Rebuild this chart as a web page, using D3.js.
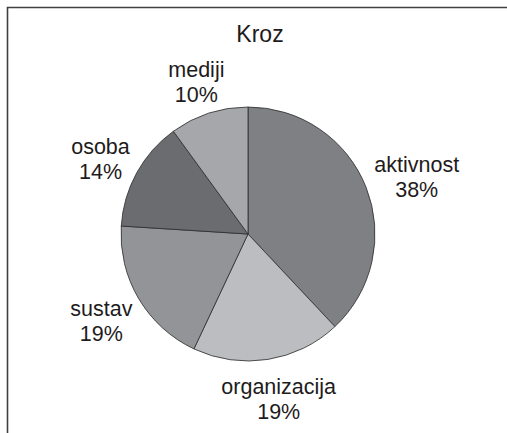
<!DOCTYPE html>
<html>
<head>
<meta charset="utf-8">
<script src="https://cdn.jsdelivr.net/npm/d3@7"></script>
<style>
  body { margin: 0; background: #fff; }
  text { font-family: "Liberation Sans", Arial, sans-serif; fill: #1e1b1c; }
</style>
</head>
<body>
<div id="chart"></div>
<script>
'use strict';

const categories = ['aktivnost', 'organizacija', 'sustav', 'osoba', 'mediji'];
const values = [38, 19, 19, 14, 10];
const colors = ['#7f8084', '#bcbdc1', '#939498', '#6b6c70', '#a6a7ab'];
const title = 'Kroz';

const width = 507, height = 433;
const cx = 248, cy = 234, radius = 127;

const svg = d3.select('#chart').append('svg')
  .attr('width', width)
  .attr('height', height);

// frame (only top and left edges show in the crop)
svg.append('path')
  .attr('d', 'M7.5,' + height + 'V7.5H' + width)
  .attr('fill', 'none')
  .attr('stroke', '#404040')
  .attr('stroke-width', 1.6);

svg.append('text')
  .attr('x', 260)
  .attr('y', 42)
  .attr('text-anchor', 'middle')
  .style('font-size', '23px')
  .text(title);

let data = categories.map((c, i) => ({ name: c, value: values[i], color: colors[i] }));

let pie = d3.pie()
  .sort(null)
  .value(d => d.value);

let arc = d3.arc()
  .innerRadius(0)
  .outerRadius(radius);

let g = svg.append('g')
  .attr('transform', 'translate(' + cx + ',' + cy + ')');

let arcs = pie(data);

g.selectAll('path')
  .data(arcs)
  .enter().append('path')
    .attr('d', arc)
    .attr('fill', d => d.data.color)
    .attr('stroke', '#2b2b2b')
    .attr('stroke-width', 0.8);

// labels sit just outside the rim, pushed out by their own box
let gap = 12, lineH = 25;

arcs.forEach((d) => {
  let a = (d.startAngle + d.endAngle) / 2;
  let px = Math.sin(a) * (radius + gap);
  let py = -Math.cos(a) * (radius + gap);

  let t = g.append('text')
    .attr('text-anchor', 'middle')
    .style('font-size', '21.5px');
  t.append('tspan').attr('x', 0).attr('dy', 0).text(d.data.name);
  t.append('tspan').attr('x', 0).attr('dy', lineH).text(Math.round(d.value / d3.sum(values) * 100) + '%');

  let bb = t.node().getBBox();
  let bx = px + Math.sin(a) * bb.width / 2;
  let by = py - Math.cos(a) * bb.height / 2 + 4;
  // shift so the box centre lands at (bx, by)
  let ox = bx - (bb.x + bb.width / 2);
  let oy = by - (bb.y + bb.height / 2);
  t.attr('transform', 'translate(' + ox + ',' + oy + ')');
});
</script>
</body>
</html>
